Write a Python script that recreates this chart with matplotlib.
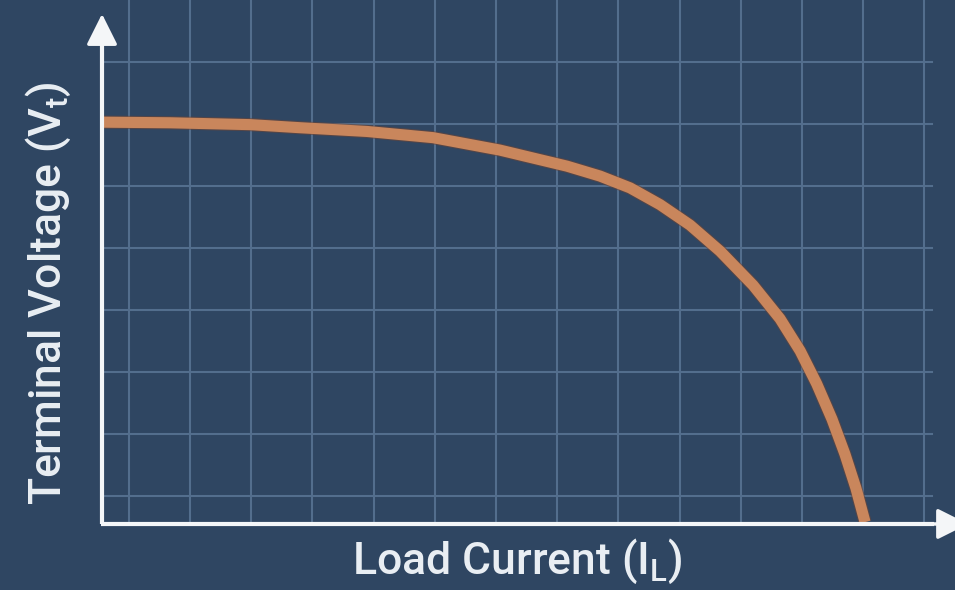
import matplotlib.pyplot as plt
import matplotlib.patheffects as pe
import numpy as np

# =========================
# Curve (current and voltage in grid units)
# =========================
load_current = [0.00, 1.11, 2.42, 3.24, 4.33, 5.41, 6.50, 7.60, 8.14, 8.63, 9.12,
                9.61, 10.10, 10.64, 11.08, 11.41, 11.68, 11.93, 12.14, 12.32, 12.47]
terminal_voltage = [6.48, 6.47, 6.44, 6.39, 6.33, 6.23, 6.03, 5.77, 5.61, 5.42, 5.15,
                    4.82, 4.40, 3.85, 3.31, 2.79, 2.26, 1.69, 1.13, 0.58, 0.03]

x_label = r"Load Current ($\mathregular{I_L}$)"
y_label = r"Terminal Voltage ($\mathregular{V_t}$)"

# =========================
# Colors
# =========================
bg_color = "#2f4662"
grid_color = "#536e8d"
curve_color = "#c9865c"
edge_color = "#6e4535"
axis_color = "#f4f6f8"
text_color = "#e9eef3"

plt.rcParams["font.family"] = ["Roboto", "DejaVu Sans"]

fig = plt.figure(figsize=(9.55, 5.9), dpi=100)
fig.patch.set_facecolor(bg_color)
ax = fig.add_axes([0, 0, 1, 1])
ax.set_facecolor(bg_color)
ax.set_xlim(-1.667, 13.94)
ax.set_ylim(-1.065, 8.45)
ax.axis("off")

# grid
x_grid = np.arange(0.44, 13.5, 1.0)
y_grid = np.arange(0.45, 7.5, 1.0)
for gx in x_grid:
    ax.plot([gx, gx], [0, 8.45], color=grid_color, lw=1.5, zorder=1)
for gy in y_grid:
    ax.plot([0, 13.57], [gy, gy], color=grid_color, lw=1.5, zorder=1)

# curve
ax.plot(load_current, terminal_voltage, color=curve_color, lw=8,
        solid_capstyle="butt", solid_joinstyle="round", zorder=3,
        path_effects=[pe.Stroke(linewidth=9.5, foreground=edge_color, alpha=0.6), pe.Normal()])

# axes with arrows
arrow_style = dict(arrowstyle="-|>,head_length=1.0,head_width=0.5",
                   color=axis_color, lw=2.5, mutation_scale=19)
ax.plot([0, 0], [0, 7.9], color=axis_color, lw=3, solid_capstyle="butt", zorder=4)
ax.plot([-0.02, 13.6], [0, 0], color=axis_color, lw=3, solid_capstyle="butt", zorder=4)
ax.annotate("", xy=(0, 8.27), xytext=(0, 7.6), arrowprops=arrow_style,
            annotation_clip=False, zorder=5)
ax.annotate("", xy=(14.2, 0), xytext=(13.5, 0), arrowprops=arrow_style,
            annotation_clip=False, zorder=5)

fig.text(517 / 955, 1 - 561 / 590, x_label, color=text_color, fontsize=32,
         fontweight="medium", ha="center", va="center")
fig.text(48 / 955, 1 - 293 / 590, y_label, color=text_color, fontsize=32,
         fontweight="medium", ha="center", va="center", rotation=90)

fig.savefig("out.png", dpi=100, facecolor=bg_color)
